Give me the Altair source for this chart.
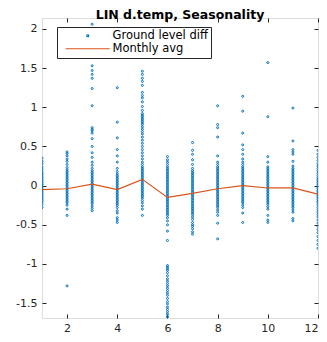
import altair as alt
import pandas as pd

months = [1, 2, 3, 4, 5, 6, 7, 8, 9, 10, 11, 12]
monthly_avg = [-0.05, -0.04, 0.02, -0.05, 0.08, -0.15, -0.10, -0.04, 0.0, -0.03, -0.03, -0.11]

m1 = [0.35, 0.31, 0.28, 0.24, 0.21, 0.18, 0.16, 0.14, 0.12, 0.10, 0.08, 0.06, 0.04, 0.02, 0.01, -0.01, -0.03,
      -0.05, -0.07, -0.09, -0.11, -0.13, -0.15, -0.17, -0.19, -0.21, -0.24, -0.28]
m2 = [0.43, 0.41, 0.38, 0.34, 0.31, 0.27, 0.23, 0.20, 0.18, 0.16, 0.14, 0.12, 0.10, 0.08, 0.06, 0.04, 0.02, 0.00,
      -0.02, -0.04, -0.06, -0.08, -0.10, -0.12, -0.14, -0.16, -0.18, -0.20, -0.22, -0.25, -0.30, -0.38, -1.28]
m3 = [2.06, 1.65, 1.53, 1.47, 1.42, 1.37, 1.24, 1.02, 0.74, 0.72, 0.70, 0.67, 0.60, 0.50, 0.42, 0.36, 0.30, 0.26,
      0.22, 0.19, 0.17, 0.15, 0.13, 0.11, 0.09, 0.07, 0.05, 0.03, 0.01, -0.01, -0.03, -0.05, -0.07, -0.09, -0.11,
      -0.13, -0.15, -0.17, -0.19, -0.21, -0.23, -0.26, -0.29, -0.32]
m4 = [1.25, 0.81, 0.61, 0.46, 0.38, 0.30, 0.22, 0.18, 0.15, 0.13, 0.11, 0.09, 0.07, 0.05, 0.03, 0.01, -0.01, -0.03,
      -0.05, -0.07, -0.09, -0.11, -0.13, -0.15, -0.17, -0.19, -0.21, -0.23, -0.25, -0.28, -0.32, -0.35, -0.41,
      -0.44, -0.47]
m5 = [1.46, 1.42, 1.37, 1.33, 1.28, 1.19, 1.15, 1.12, 1.07, 1.01, 0.96, 0.92, 0.90, 0.88, 0.86, 0.84, 0.82, 0.80,
      0.78, 0.75, 0.72, 0.69, 0.66, 0.62, 0.58, 0.54, 0.50, 0.46, 0.42, 0.38, 0.34, 0.30, 0.27, 0.24, 0.22, 0.20,
      0.18, 0.16, 0.14, 0.12, 0.10, 0.08, 0.06, 0.04, 0.02, 0.00, -0.02, -0.04, -0.06, -0.08, -0.10, -0.12, -0.14,
      -0.16, -0.19, -0.22, -0.26, -0.30, -0.38]
m6 = [0.37, 0.33, 0.30, 0.27, 0.24, 0.22, 0.20, 0.18, 0.16, 0.14, 0.12, 0.10, 0.08, 0.06, 0.04, 0.02, 0.00, -0.02,
      -0.04, -0.06, -0.08, -0.10, -0.12, -0.14, -0.16, -0.18, -0.20, -0.22, -0.24, -0.26, -0.28, -0.30, -0.32,
      -0.34, -0.36, -0.38, -0.41, -0.45, -0.50, -0.58, -0.70, -1.02, -1.04, -1.06, -1.08, -1.11, -1.15, -1.19,
      -1.22, -1.25, -1.28, -1.31, -1.34, -1.37, -1.40, -1.44, -1.48, -1.51, -1.55, -1.58, -1.61, -1.64, -1.67, -1.69]
m7 = [0.55, 0.45, 0.40, 0.33, 0.27, 0.22, 0.19, 0.17, 0.15, 0.13, 0.11, 0.09, 0.07, 0.05, 0.03, 0.01, -0.01, -0.03,
      -0.05, -0.07, -0.09, -0.11, -0.13, -0.15, -0.17, -0.19, -0.21, -0.23, -0.25, -0.27, -0.29, -0.31, -0.33,
      -0.35, -0.37, -0.40, -0.43, -0.47, -0.50, -0.52, -0.55, -0.59, -0.62]
m8 = [1.02, 0.78, 0.74, 0.62, 0.38, 0.30, 0.27, 0.24, 0.22, 0.20, 0.18, 0.16, 0.14, 0.12, 0.10, 0.08, 0.06, 0.04,
      0.02, 0.00, -0.02, -0.04, -0.06, -0.08, -0.10, -0.12, -0.14, -0.16, -0.18, -0.20, -0.22, -0.24, -0.26, -0.28,
      -0.31, -0.34, -0.38, -0.48, -0.68]
m9 = [1.14, 0.95, 0.67, 0.52, 0.46, 0.40, 0.34, 0.30, 0.27, 0.24, 0.22, 0.20, 0.18, 0.16, 0.14, 0.12, 0.10, 0.08,
      0.06, 0.04, 0.02, 0.00, -0.02, -0.04, -0.06, -0.08, -0.10, -0.12, -0.14, -0.16, -0.18, -0.20, -0.22, -0.25,
      -0.28, -0.35, -0.47]
m10 = [1.57, 0.88, 0.37, 0.30, 0.24, 0.22, 0.20, 0.18, 0.16, 0.14, 0.12, 0.10, 0.08, 0.06, 0.04, 0.02, 0.00, -0.02,
       -0.04, -0.06, -0.08, -0.10, -0.12, -0.14, -0.16, -0.18, -0.20, -0.22, -0.24, -0.27, -0.30, -0.38, -0.44, -0.47]
m11 = [0.99, 0.57, 0.46, 0.43, 0.40, 0.31, 0.25, 0.22, 0.20, 0.18, 0.16, 0.14, 0.12, 0.10, 0.08, 0.06, 0.04, 0.02,
       0.00, -0.02, -0.04, -0.06, -0.08, -0.10, -0.12, -0.14, -0.16, -0.18, -0.20, -0.22, -0.24, -0.26, -0.28,
       -0.31, -0.34, -0.42, -0.45]
m12 = [0.45, 0.40, 0.36, 0.32, 0.28, 0.25, 0.22, 0.19, 0.16, 0.13, 0.10, 0.08, 0.06, 0.04, 0.02, 0.00, -0.02, -0.04,
       -0.06, -0.08, -0.10, -0.12, -0.14, -0.16, -0.18, -0.20, -0.22, -0.25, -0.28, -0.31, -0.34, -0.37, -0.40,
       -0.44, -0.48, -0.52, -0.56, -0.60, -0.65, -0.70, -0.75, -0.80]

per_month = [m1, m2, m3, m4, m5, m6, m7, m8, m9, m10, m11, m12]
series_names = ["Ground level diff", "Monthly avg"]
colors = ["#0072BD", "#D95319"]

rows = []
for mo, vals in zip(months, per_month):
    for v in vals:
        rows.append({"month": mo, "diff": v, "series": series_names[0]})
pts = pd.DataFrame(rows)
avg = pd.DataFrame({"month": months, "diff": monthly_avg, "series": series_names[1]})

AX = "#262626"
FONT = "DejaVu Sans"
xscale = alt.Scale(domain=[1, 12], nice=False, zero=False)
yscale = alt.Scale(domain=[-1.69, 2.14], nice=False, zero=False)
xticks = [2, 4, 6, 8, 10, 12]
yticks = [-1.5, -1, -0.5, 0, 0.5, 1, 1.5, 2]

def xaxis(orient, labels):
    return alt.Axis(orient=orient, values=xticks, labels=labels, grid=False, domain=False, ticks=True,
                    tickSize=4, offset=-4, tickColor=AX, labelColor=AX, labelFontSize=11, labelFont=FONT,
                    labelPadding=4, title=None, labelExpr="datum.value + ''")

def yaxis(orient, labels):
    return alt.Axis(orient=orient, values=yticks, labels=labels, grid=False, domain=False, ticks=True,
                    tickSize=4, offset=-4, tickColor=AX, labelColor=AX, labelFontSize=11, labelFont=FONT,
                    labelPadding=5, title=None, labelExpr="datum.value + ''")

color = alt.Color("series:N", scale=alt.Scale(domain=series_names, range=colors),
                  legend=alt.Legend(orient="none", legendX=15, legendY=9, title=None, fillColor="white",
                                    strokeColor=AX, padding=3, labelFontSize=11.5, labelFont=FONT,
                                    labelColor="#000000", symbolSize=4, symbolStrokeWidth=1.2,
                                    symbolOffset=22, labelOffset=19, rowPadding=0))
shape = alt.Shape("series:N", scale=alt.Scale(domain=series_names, range=["circle", "M-22,0H22"]),
                  legend=alt.Legend(orient="none", legendX=15, legendY=9, title=None))

points = alt.Chart(pts).mark_point(filled=False, size=4, strokeWidth=1, opacity=1, clip=True).encode(
    x=alt.X("month:Q", scale=xscale, axis=xaxis("bottom", True)),
    y=alt.Y("diff:Q", scale=yscale, axis=yaxis("left", True)),
    color=color,
    shape=shape,
)

line = alt.Chart(avg).mark_line(strokeWidth=1.2, clip=True).encode(
    x=alt.X("month:Q", scale=xscale, axis=xaxis("top", False)),
    y=alt.Y("diff:Q", scale=yscale, axis=yaxis("right", False)),
    color=color,
)

chart = alt.layer(points, line).resolve_axis(x="independent", y="independent").properties(
    width=276, height=300,
    autosize=alt.AutoSizeParams(type="none"),
    padding={"left": 34, "top": 10, "right": 1, "bottom": 16},
    title=alt.TitleParams("LIN d.temp, Seasonality", fontSize=12.5, fontWeight="bold", font=FONT,
                          color="#000000", offset=-4, anchor="middle"),
).configure_view(stroke=AX, strokeWidth=1).configure(background="white")

chart.save("out.html", embed_options={"renderer": "svg", "actions": False})
